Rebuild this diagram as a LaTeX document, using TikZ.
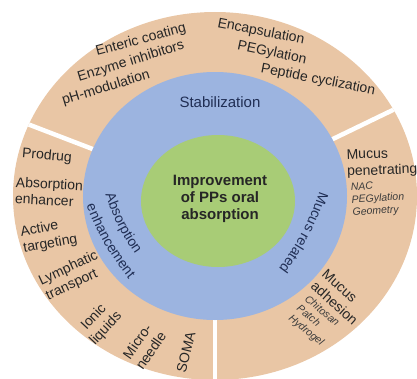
\documentclass[tikz,border=0pt]{standalone}
\usepackage{fontspec}
\setmainfont{Liberation Sans}
\usepackage{tikz}
\usetikzlibrary{decorations.text}
\definecolor{cTan}{RGB}{233,198,165}
\definecolor{cBlue}{RGB}{156,180,224}
\definecolor{cGreen}{RGB}{168,204,118}
\definecolor{cNavy}{RGB}{32,46,84}
\definecolor{cInk}{RGB}{38,38,38}
\tikzset{
	hub/.style    ={text=cInk, font=\fontsize{15}{17}\selectfont\bfseries, align=center, inner sep=0pt},
	sector/.style ={text=cNavy, font=\fontsize{15}{17}\selectfont, inner sep=0pt},
	itm/.style    ={text=cInk, font=\fontsize{14}{16.5}\selectfont, align=left, inner sep=0pt},
	subitm/.style ={text=cInk!90, font=\fontsize{10.5}{12.5}\selectfont\itshape, align=left, inner sep=0pt},
	% curved sector labels on the blue ring
	arctext/.style={decorate, decoration={text along path, text align=center,
			text={|\fontsize{14}{14}\selectfont\color{cNavy}|#1}}},
	gap/.style    ={white, line width=4.5pt},
}
\begin{document}
\begin{tikzpicture}[x=1pt, y=1pt]
	\useasboundingbox (-215,-182) rectangle (202,196);
	% rings
	\fill[cTan] (0,0) ellipse [x radius=202, y radius=184];
	\begin{scope}
		\clip (0,0) ellipse [x radius=202, y radius=184];
		\foreach \a in {25.8,159,270} {
			\draw[gap] (0,0) -- (\a:240);
		}
	\end{scope}
	\fill[cBlue] (0,0) ellipse [x radius=132, y radius=124];
	\fill[cGreen] (3,-5) ellipse [x radius=77, y radius=66];

	\node[hub] (hub) at (5,-3) {Improvement\\of PPs oral\\absorption};

	% sector titles
	\node[sector] (stab) at (5,94) {Stabilization};
	\path[arctext={Absorption}] (-113.6,14.3) to[bend right=10] (-71.9,-69.2);
	\path[arctext={enhancement}] (-134.3,5.3) to[bend right=10] (-76,-95.7);
	\path[arctext={Mucus related}] (108.5,16.2) to[bend left=10] (56.5,-82.4);

	% stabilization
	\node[itm, rotate=15] (enteric) at (-74,156) {Enteric coating};
	\node[itm, rotate=17] (enzyme) at (-84,134.5) {Enzyme inhibitors};
	\node[itm, rotate=17] (ph) at (-109,108) {pH-modulation};
	\node[itm, rotate=-11] (encap) at (46,164) {Encapsulation};
	\node[itm, rotate=-12] (peg) at (57,143) {PEGylation};
	\node[itm, rotate=-11] (cycl) at (103,116) {Peptide cyclization};

	% absorption enhancement
	\node[itm, rotate=-5] (prodrug) at (-168,40) {Prodrug};
	\node[itm, rotate=-3] (enhancer) at (-166,4) {Absorption\\enhancer};
	\node[itm, rotate=10] (target) at (-166,-40) {Active\\targeting};
	\node[itm, rotate=25] (lymph) at (-143,-80) {Lymphatic\\transport};
	\node[itm, rotate=47, align=center] (ionic) at (-115,-127) {Ionic\\liquids};
	\node[itm, rotate=55, align=center] (needle) at (-71,-150) {Micro-\\needle};
	\node[itm, rotate=76] (soma) at (-29,-156) {SOMA};

	% mucus related
	\node[itm, rotate=2] (pen) at (167,33) {Mucus\\penetrating};
	\node[subitm, rotate=4] (penlist) at (163,-3) {NAC\\PEGylation\\Geometry};
	\node[itm, rotate=-42] (adh) at (125,-101) {Mucus\\adhesion};
	\node[subitm, rotate=-40] (adhlist) at (99,-125) {Chitosan\\Patch\\Hydrogel};
\end{tikzpicture}
\end{document}
